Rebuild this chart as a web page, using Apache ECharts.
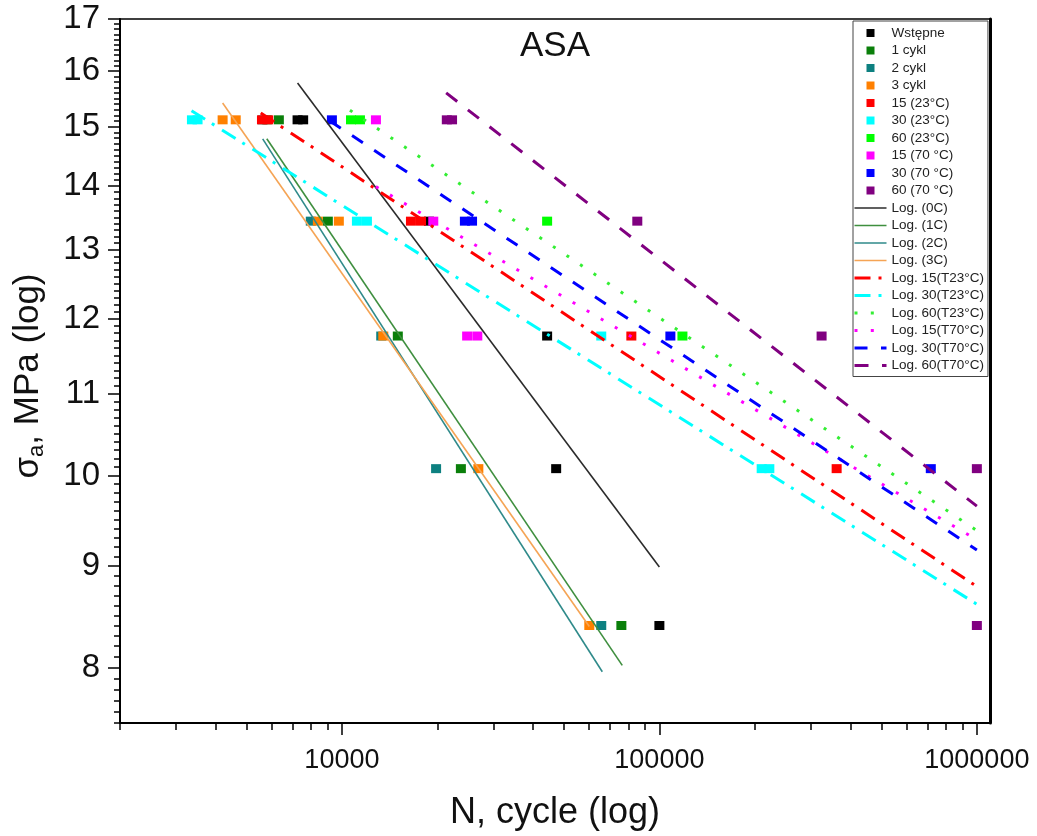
<!DOCTYPE html>
<html>
<head>
<meta charset="utf-8">
<script src="https://cdn.jsdelivr.net/npm/echarts@6/dist/echarts.min.js"></script>
<style>
  html, body { margin: 0; padding: 0; background: #ffffff; }
  #chart { width: 1037px; height: 836px; }
</style>
</head>
<body>
<div id="chart"></div>
<script>
// Fatigue (S-N) data for ASA: number of cycles N and stress amplitude σa [MPa]
const stressLevels = [15.12, 13.44, 11.76, 10.08, 8.4];

const wstepne = [[7250, 15.12], [7550, 15.12], [18800, 13.44], [44300, 11.76], [47300, 10.08], [100000, 8.4]];
const cykl1   = [[5800, 15.12], [6330, 15.12], [9030, 13.44], [15000, 11.76], [23700, 10.08], [75900, 8.4]];
const cykl2   = [[5630, 15.12], [7980, 13.44], [13300, 11.76], [19800, 10.08], [65600, 8.4]];
const cykl3   = [[4210, 15.12], [4630, 15.12], [8400, 13.44], [9780, 13.44], [13500, 11.76], [26900, 10.08], [60150, 8.4]];
const t15_23  = [[5600, 15.12], [5860, 15.12], [16500, 13.44], [17750, 13.44], [81600, 11.76], [361700, 10.08]];
const t30_23  = [[3370, 15.12], [3510, 15.12], [11150, 13.44], [11990, 13.44], [65600, 11.76], [210000, 10.08], [222000, 10.08]];
const t60_23  = [[10680, 15.12], [11400, 15.12], [44300, 13.44], [118200, 11.76]];
const t15_70  = [[12800, 15.12], [19400, 13.44], [24800, 11.76], [26700, 11.76]];
const t30_70  = [[9300, 15.12], [24400, 13.44], [25700, 13.44], [108300, 11.76], [716000, 10.08]];
const t60_70  = [[21400, 15.12], [22230, 15.12], [85200, 13.44], [324300, 11.76], [1000000, 10.08], [1000000, 8.4]];

// Logarithmic trend lines (start and end points)
const fit0C    = [[7250, 15.78], [100000, 8.99]];
const fit1C    = [[5800, 14.79], [76400, 8.02]];
const fit2C    = [[5630, 14.79], [66100, 7.96]];
const fit3C    = [[4210, 15.42], [60150, 8.39]];
const fit15_23 = [[5550, 15.24], [1000000, 8.79]];
const fit30_23 = [[3360, 15.28], [1000000, 8.61]];
const fit60_23 = [[10600, 15.29], [1000000, 9.38]];
const fit15_70 = [[12800, 13.99], [1000000, 9.28]];
const fit30_70 = [[9170, 15.10], [1000000, 9.17]];
const fit60_70 = [[21300, 15.60], [1000000, 9.65]];

// Axis ranges and tick labels
const xMin = 2000, xMax = 1100000;
const yMin = 7.5, yMax = 17;
const xMajorTicks = [10000, 100000, 1000000];
const yMajorTicks = [8, 9, 10, 11, 12, 13, 14, 15, 16, 17];

const lg = Math.log10;
const toLog = pts => pts.map(p => [lg(p[0]), lg(p[1])]);

// minor ticks: 2..9 per decade on N, every 0.1 MPa on σa
const xMinorTicks = [];
[1000, 10000, 100000].forEach(d => {
  for (let m = 2; m <= 9; m++) { const v = m * d; if (v >= xMin && v <= xMax) xMinorTicks.push(v); }
});
const yMinorTicks = [];
for (let k = Math.round(yMin * 10); k <= Math.round(yMax * 10); k++) {
  if (k % 10 !== 0) yMinorTicks.push(k / 10);
}

const FONT = 'Liberation Sans';
const fmtPow = v => String(Math.round(Math.pow(10, v)));

const scatterDefs = [
  ['Wstępne', wstepne, '#000000'],
  ['1 cykl', cykl1, '#0a7f0a'],
  ['2 cykl', cykl2, '#0d8080'],
  ['3 cykl', cykl3, '#ff8000'],
  ['15 (23°C)', t15_23, '#ff0000'],
  ['30 (23°C)', t30_23, '#00ffff'],
  ['60 (23°C)', t60_23, '#00ff00'],
  ['15 (70 °C)', t15_70, '#ff00ff'],
  ['30 (70 °C)', t30_70, '#0000ff'],
  ['60 (70 °C)', t60_70, '#800080']
];

const dashDot = [16, 8, 3, 9];
const dots = [3, 13.3];
const lineDefs = [
  ['Log. (0C)', fit0C, '#2b2b2b', 1.6, 'solid'],
  ['Log. (1C)', fit1C, '#3f8f3f', 1.6, 'solid'],
  ['Log. (2C)', fit2C, '#2f8a8a', 1.6, 'solid'],
  ['Log. (3C)', fit3C, '#f5a455', 1.6, 'solid'],
  ['Log. 15(T23°C)', fit15_23, '#ff0000', 3, dashDot],
  ['Log. 30(T23°C)', fit30_23, '#00ffff', 3, dashDot],
  ['Log. 60(T23°C)', fit60_23, '#33ee33', 3, dots],
  ['Log. 15(T70°C)', fit15_70, '#ff00ff', 3, dots],
  ['Log. 30(T70°C)', fit30_70, '#0000ff', 3, [13, 13.5]],
  ['Log. 60(T70°C)', fit60_70, '#800080', 3, [14, 13.5]]
];

const series = [];
const legendData = [];
scatterDefs.forEach(([name, pts, color]) => {
  series.push({
    type: 'scatter', name, data: toLog(pts),
    symbol: 'rect', symbolSize: [10, 9],
    itemStyle: { color, opacity: 1 },
    xAxisIndex: 0, yAxisIndex: 0, z: 2
  });
  // square marker in the legend
  legendData.push({ name, icon: 'path://M0,0H10V10H0Z' });
});
lineDefs.forEach(([name, pts, color, width, type]) => {
  series.push({
    type: 'line', name, data: toLog(pts),
    symbol: 'none', showSymbol: false,
    lineStyle: { color, width, type, cap: 'butt' },
    itemStyle: { color },
    xAxisIndex: 0, yAxisIndex: 0, z: 3
  });
  // plain line sample in the legend, no marker
  legendData.push({ name, itemStyle: { opacity: 0 } });
});

const chart = echarts.init(document.getElementById('chart'), null, { renderer: 'canvas' });
chart.setOption({
  animation: false,
  backgroundColor: '#ffffff',
  title: {
    text: 'ASA', left: 520, top: 29, padding: 0,
    textStyle: { fontFamily: FONT, fontSize: 35, fontWeight: 'normal', color: '#111' }
  },
  grid: {
    left: 120, right: 47, top: 19, bottom: 113,
    show: true, borderColor: '#000', borderWidth: 1.5, backgroundColor: 'transparent'
  },
  legend: {
    data: legendData,
    orient: 'vertical', left: 853, top: 21,
    itemWidth: 32, itemHeight: 8, itemGap: 3.5,
    padding: [5, 4, 4, 0],
    borderColor: '#444', borderWidth: 1, backgroundColor: '#ffffff',
    selectedMode: false,
    textStyle: { fontFamily: FONT, fontSize: 13.5, color: '#222', lineHeight: 14 },
    lineStyle: { width: 'inherit' }
  },
  xAxis: [
    {
      type: 'value', position: 'bottom', min: lg(xMin), max: lg(xMax),
      splitLine: { show: false },
      axisLine: { show: true, onZero: false, lineStyle: { color: '#000', width: 2 } },
      axisTick: { show: true, customValues: xMajorTicks.map(lg), length: 12, lineStyle: { color: '#000', width: 1.5 } },
      axisLabel: { customValues: xMajorTicks.map(lg), formatter: fmtPow, fontFamily: FONT, fontSize: 27, color: '#111', margin: 24 },
      name: 'N, cycle (log)', nameLocation: 'middle', nameGap: 72,
      nameTextStyle: { fontFamily: FONT, fontSize: 36, color: '#111' }
    },
    {
      type: 'value', position: 'bottom', min: lg(xMin), max: lg(xMax),
      splitLine: { show: false },
      axisLine: { show: false, onZero: false },
      axisTick: { show: true, customValues: xMinorTicks.map(lg), length: 7, lineStyle: { color: '#000', width: 1.5 } },
      axisLabel: { show: false }
    }
  ],
  yAxis: [
    {
      type: 'value', position: 'left', min: lg(yMin), max: lg(yMax),
      splitLine: { show: false },
      axisLine: { show: true, onZero: false, lineStyle: { color: '#000', width: 2 } },
      axisTick: { show: true, customValues: yMajorTicks.map(lg), length: 12, lineStyle: { color: '#000', width: 1.5 } },
      axisLabel: { customValues: yMajorTicks.map(lg), formatter: fmtPow, fontFamily: FONT, fontSize: 33, color: '#111', margin: 20 },
      name: '{m|σ}{s|a}{m|, MPa (log)}', nameLocation: 'middle', nameRotate: 90, nameGap: 72,
      nameTextStyle: {
        fontFamily: FONT, fontSize: 35, color: '#111', padding: [0, 10, 0, 0],
        rich: {
          m: { fontFamily: FONT, fontSize: 35, color: '#111', lineHeight: 40 },
          s: { fontFamily: FONT, fontSize: 22, color: '#111', lineHeight: 10, verticalAlign: 'bottom' }
        }
      }
    },
    {
      type: 'value', position: 'left', min: lg(yMin), max: lg(yMax),
      splitLine: { show: false },
      axisLine: { show: false, onZero: false },
      axisTick: { show: true, customValues: yMinorTicks.map(lg), length: 6, lineStyle: { color: '#000', width: 1.5 } },
      axisLabel: { show: false }
    },
    {
      type: 'value', position: 'right', min: lg(yMin), max: lg(yMax),
      splitLine: { show: false },
      axisLine: { show: true, onZero: false, lineStyle: { color: '#000', width: 3 } },
      axisTick: { show: false },
      axisLabel: { show: false }
    }
  ],
  series
});
</script>
</body>
</html>
